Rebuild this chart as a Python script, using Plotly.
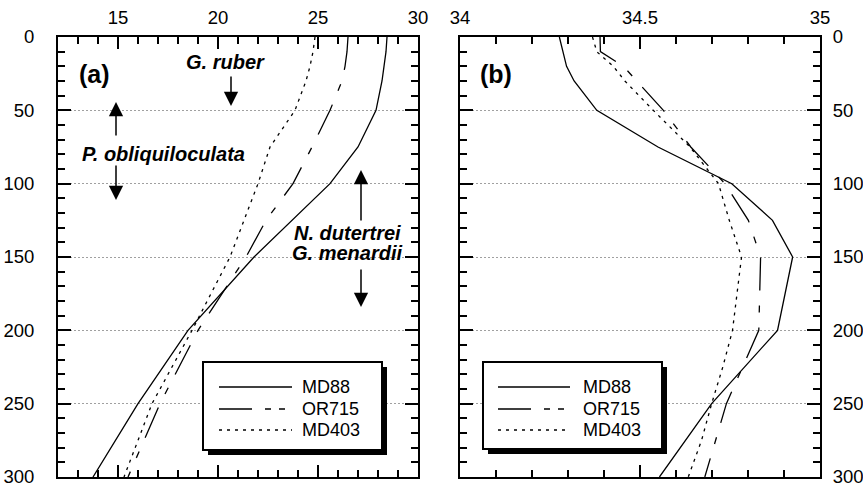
import plotly.graph_objects as go

# ---------------- data ----------------
depth = [0, 10, 20, 30, 50, 75, 100, 125, 150, 200, 250, 300]
depth_md403_sal = [0, 10, 20, 30, 50, 75, 100, 125, 150, 200, 225, 250, 275, 300]

temp_md88 = [28.45, 28.4, 28.3, 28.2, 27.9, 27.0, 25.6, 23.7, 21.8, 18.5, 16.0, 13.75]
temp_or715 = [26.5, 26.45, 26.35, 26.2, 25.6, 24.7, 23.75, 22.4, 21.4, 19.0, 17.1, 15.5]
temp_md403 = [24.85, 24.75, 24.6, 24.4, 23.85, 22.6, 22.0, 21.3, 20.6, 18.7, 16.7, 15.3]

sal_md88 = [34.276, 34.287, 34.296, 34.317, 34.38, 34.55, 34.755, 34.868, 34.924, 34.882, 34.699, 34.554]
sal_or715 = [34.389, 34.39, 34.454, 34.491, 34.565, 34.641, 34.736, 34.801, 34.835, 34.83, 34.74, 34.68]
sal_md403 = [34.368, 34.38, 34.426, 34.458, 34.537, 34.639, 34.718, 34.748, 34.782, 34.757, 34.73,
             34.699, 34.671, 34.634]

series_names = ["MD88", "OR715", "MD403"]
panel_labels = ["(a)", "(b)"]

# ---------------- styling ----------------
W, H = 863, 484
MT, MB = 37, 7
FONT = "Liberation Sans, Arial, Helvetica, sans-serif"
DASH = {"MD88": "solid", "OR715": "33px,15px,7px,15px", "MD403": "3px,5px"}
LEGEND_DASH = {"MD88": "solid", "OR715": "33px,13px,6px,8px,6px,200px", "MD403": "3px,5px"}
LW = 1.3


def px(xp):
    return xp / W


def py(yp):
    return (H - MB - yp) / (H - MT - MB)


fig = go.Figure()

temps = {"MD88": temp_md88, "OR715": temp_or715, "MD403": temp_md403}
sals = {"MD88": sal_md88, "OR715": sal_or715, "MD403": sal_md403}
sal_depths = {"MD88": depth, "OR715": depth, "MD403": depth_md403_sal}

for n in series_names:
    fig.add_trace(go.Scatter(x=temps[n], y=depth, mode="lines", name=n, showlegend=False,
                             line=dict(color="black", width=LW, dash=DASH[n]),
                             xaxis="x", yaxis="y"))
for n in series_names:
    fig.add_trace(go.Scatter(x=sals[n], y=sal_depths[n], mode="lines", name=n, showlegend=False,
                             line=dict(color="black", width=LW, dash=DASH[n]),
                             xaxis="x2", yaxis="y2"))

tickfont = dict(family=FONT, size=18.5, color="black")
common_x = dict(side="top", ticks="inside", ticklen=12, tickwidth=1.6, tickcolor="black",
                showline=True, linewidth=2, linecolor="black", mirror="allticks",
                showgrid=False, zeroline=False, tickfont=tickfont, ticklabelstandoff=4,
                automargin=False, ticklabeloverflow="allow")
common_y = dict(range=[300, 0], dtick=50, tick0=0, ticks="inside", ticklen=13, tickwidth=1.6,
                tickcolor="black", showline=True, linewidth=2, linecolor="black", mirror="allticks",
                showgrid=True, gridcolor="#a0a0a0", gridwidth=1, griddash="2px,2px",
                zeroline=False, tickfont=tickfont, automargin=False, ticklabeloverflow="allow",
                minor=dict(dtick=10, ticklen=7, tickwidth=1.6, tickcolor="black", ticks="inside",
                           showgrid=False))

fig.update_layout(
    width=W, height=H,
    margin=dict(l=0, r=0, t=MT, b=MB, autoexpand=False),
    paper_bgcolor="white", plot_bgcolor="white",
    font=dict(family=FONT, color="black"),
    xaxis=dict(domain=[px(58), px(418)], range=[12, 30], dtick=5, tick0=0, anchor="y",
               minor=dict(dtick=1, ticklen=7, tickwidth=1.6, tickcolor="black", ticks="inside"),
               **common_x),
    yaxis=dict(domain=[0, 1], anchor="x", side="left", ticklabelstandoff=18, **common_y),
    xaxis2=dict(domain=[px(460), px(820)], range=[34, 35], dtick=0.5, tick0=34, anchor="y2",
                minor=dict(dtick=0.1, ticklen=7, tickwidth=1.6, tickcolor="black", ticks="inside"),
                **common_x),
    yaxis2=dict(domain=[0, 1], anchor="x2", side="right", ticklabelstandoff=7, **common_y),
)

shapes = []
annotations = []

# panel labels
for lab, xx in zip(panel_labels, [94, 496]):
    annotations.append(dict(text="<b>%s</b>" % lab, x=px(xx), y=py(74), xref="paper", yref="paper",
                            showarrow=False, xanchor="center", yanchor="middle",
                            font=dict(family=FONT, size=25, color="black")))

# species labels
sfont = dict(family=FONT, size=20, color="black")
for txt, xx, yy in [("G. ruber", 226, 62), ("P. obliquiloculata", 163, 154),
                    ("N. dutertrei", 347, 233), ("G. menardii", 347, 253)]:
    annotations.append(dict(text="<b><i>%s</i></b>" % txt, x=px(xx), y=py(yy), xref="paper", yref="paper",
                            showarrow=False, xanchor="center", yanchor="middle", font=sfont))

# arrows (head position, tail y in px)
for hx, hy, ty in [(231, 106, 75), (116, 102, 137), (116, 200, 164), (361, 170, 222), (361, 307, 268)]:
    annotations.append(dict(text="", x=px(hx), y=py(hy), xref="paper", yref="paper",
                            showarrow=True, ax=0, ay=ty - hy, axref="pixel", ayref="pixel",
                            arrowhead=2, arrowsize=1.9, arrowwidth=1.5, arrowcolor="black"))

# custom legends
for (bx0, by0, bx1, by1, lx0, lx1, tx) in [(203, 362, 382, 450, 219, 292, 300),
                                           (483, 362, 662, 449, 498, 570, 581)]:
    off = 5
    shapes.append(dict(type="rect", xref="paper", yref="paper",
                       x0=px(bx0 + off), x1=px(bx1 + off), y0=py(by0 + off), y1=py(by1 + off),
                       fillcolor="black", line=dict(width=0), layer="above"))
    shapes.append(dict(type="rect", xref="paper", yref="paper",
                       x0=px(bx0), x1=px(bx1), y0=py(by0), y1=py(by1),
                       fillcolor="white", line=dict(color="black", width=2), layer="above"))
    for n, yy in zip(series_names, [387, 409, 430]):
        shapes.append(dict(type="line", xref="paper", yref="paper",
                           x0=px(lx0), x1=px(lx1), y0=py(yy), y1=py(yy),
                           line=dict(color="black", width=LW, dash=LEGEND_DASH[n]), layer="above"))
        annotations.append(dict(text=n, x=px(tx), y=py(yy), xref="paper", yref="paper",
                                showarrow=False, xanchor="left", yanchor="middle",
                                font=dict(family=FONT, size=18, color="black")))

fig.update_layout(shapes=shapes, annotations=annotations)

fig.write_html("out.html")
